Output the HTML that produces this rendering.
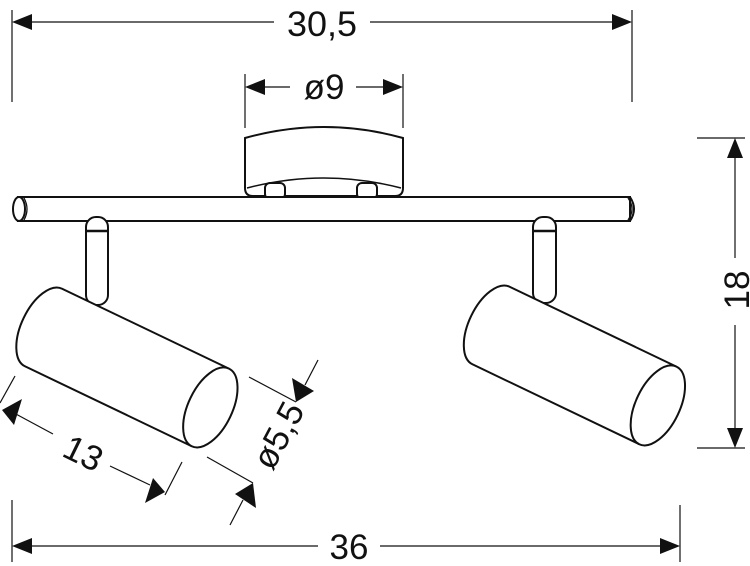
<!DOCTYPE html>
<html><head><meta charset="utf-8"><style>
html,body{margin:0;padding:0;background:#fff;}
svg{display:block;}
text{font-family:"Liberation Sans",sans-serif;fill:#111;}
</style></head><body>
<svg width="750" height="566" viewBox="0 0 750 566" xmlns="http://www.w3.org/2000/svg">
<g stroke="#111" fill="none" stroke-width="1.2">
<line x1="12" y1="10" x2="12" y2="102"/>
<line x1="632" y1="10" x2="632" y2="102"/>
<line x1="30" y1="22" x2="274" y2="22"/>
<line x1="370" y1="22" x2="614" y2="22"/>
<line x1="245" y1="74" x2="245" y2="128"/>
<line x1="403" y1="74" x2="403" y2="128"/>
<line x1="263" y1="87" x2="290" y2="87"/>
<line x1="356" y1="87" x2="385" y2="87"/>
<line x1="697" y1="138" x2="745" y2="138"/>
<line x1="697" y1="448" x2="745" y2="448"/>
<line x1="735" y1="156" x2="735" y2="258"/>
<line x1="735" y1="325" x2="735" y2="430"/>
<line x1="12" y1="500" x2="12" y2="562"/>
<line x1="680" y1="505" x2="680" y2="562"/>
<line x1="30" y1="546" x2="318" y2="546"/>
<line x1="380" y1="546" x2="662" y2="546"/>
<line x1="15" y1="376" x2="0" y2="403"/>
<line x1="182" y1="462" x2="165" y2="495"/>
<line x1="14" y1="413" x2="53" y2="434"/>
<line x1="110" y1="466" x2="150" y2="485"/>
<line x1="249" y1="377" x2="296" y2="402"/>
<line x1="207" y1="457" x2="253" y2="483"/>
<line x1="318" y1="360" x2="305" y2="385"/>
<line x1="243" y1="500" x2="230" y2="525"/>
</g>
<g fill="#111">
<polygon points="12,22 32,14 32,30"/>
<polygon points="632,22 612,14 612,30"/>
<polygon points="245,87 265,79 265,95"/>
<polygon points="403,87 383,79 383,95"/>
<polygon points="735,138 727,158 743,158"/>
<polygon points="735,448 727,428 743,428"/>
<polygon points="12,546 32,538 32,554"/>
<polygon points="680,546 660,538 660,554"/>
<polygon points="2,410 22,399 14,425"/>
<polygon points="165,492 145,503 153,478"/>
<polygon points="296,402 314,391 292,378"/>
<polygon points="253,483 235,494 256,508"/>
</g>
<text x="322" y="36" font-size="35" text-anchor="middle" textLength="70" lengthAdjust="spacingAndGlyphs">30,5</text>
<text x="324" y="99" font-size="35" text-anchor="middle">ø9</text>
<text x="349" y="559" font-size="35" text-anchor="middle">36</text>
<text transform="translate(749,290) rotate(-90)" font-size="35" text-anchor="middle">18</text>
<text transform="translate(78,464) rotate(26)" font-size="35" text-anchor="middle">13</text>
<text transform="translate(289,441) rotate(-62)" font-size="35" text-anchor="middle">ø5,5</text>
<g stroke="#111" fill="#fff" stroke-width="2">
<path d="M245,138 Q324,116 403,138 L403,188 Q403,196 395,196 L253,196 Q245,196 245,188 Z"/>
<path d="M247,188 Q324,168 401,188" fill="none" stroke-width="1.5"/>
<rect x="265" y="183" width="20" height="16" rx="5"/>
<rect x="357" y="183" width="20" height="16" rx="5"/>
<rect x="18" y="197" width="612" height="24"/>
<ellipse cx="19" cy="209" rx="6" ry="12"/>
<path d="M24,198 Q30,209 24,220" fill="none" stroke-width="1.3"/>
<path d="M628,198 Q636,209 628,220" fill="none" stroke-width="1.3"/>
<path d="M630,197 Q638,209 630,221" fill="none"/>
<rect x="86" y="217" width="22" height="88" rx="10"/>
<line x1="87" y1="231" x2="107" y2="231" stroke-width="2.5"/>
<rect x="533" y="217" width="23" height="86" rx="10"/>
<line x1="534" y1="231" x2="555" y2="231" stroke-width="2.5"/>
<g transform="translate(43.5,327.5) rotate(25.6)">
<path d="M185,-43 L0,-43 A22,43 0 0 0 0,43 L185,43"/>
<ellipse cx="185" cy="0" rx="22" ry="43"/>
</g>
<g transform="translate(491,325.5) rotate(25.6)">
<path d="M185,-43 L0,-43 A22,43 0 0 0 0,43 L185,43"/>
<ellipse cx="185" cy="0" rx="22" ry="43"/>
</g>
</g>
</svg>
</body></html>
